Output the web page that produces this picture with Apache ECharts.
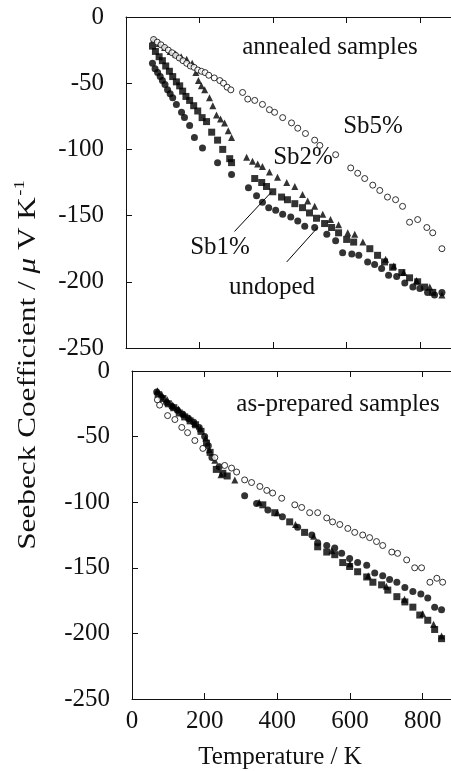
<!DOCTYPE html>
<html><head><meta charset="utf-8">
<script src="https://cdn.jsdelivr.net/npm/echarts@6/dist/echarts.min.js"></script>
<style>html,body{margin:0;padding:0;background:#fff}#c{width:451px;height:771px}</style>
</head><body><div id="c"></div>
<script>
// ---- tick labels ----
const xTicks = [0, 200, 400, 600, 800];
const yTicks = [0, -50, -100, -150, -200, -250];

// ---- annealed samples (top panel) ----
const annUndopedT = [72,79,86,93,99,106,113,120,127,137,151,159,173,186,208,249,287,333,355,371,388,407,426,448,467,486,513,546,570,589,614,633,657,676,695,714,736,758,780,799,820,839,859];
const annUndopedS = [-35,-39,-42,-45,-48,-51,-55,-58,-61,-66,-72,-76,-82,-91,-99,-110,-119,-129,-135,-140,-144,-146,-149,-151,-154,-158,-159,-164,-169,-178,-179,-180,-185,-187,-190,-195,-196,-201,-204,-205,-208,-210,-208];
const annSb1T = [72,80,90,99,108,118,127,137,146,154,163,173,184,195,207,219,233,249,263,282,287,350,369,382,399,423,439,459,480,499,518,540,559,578,600,619,663,684,703,725,750,771,793,812,834];
const annSb1S = [-22,-26,-30,-33,-37,-41,-45,-49,-52,-56,-60,-63,-67,-71,-76,-79,-87,-93,-100,-107,-110,-122,-125,-128,-132,-136,-138,-141,-144,-148,-152,-156,-159,-163,-168,-170,-175,-180,-185,-189,-193,-197,-200,-204,-208];
const annSb2T = [75,90,105,120,135,150,165,180,190,197,205,214,227,236,246,257,268,278,287,328,344,358,371,390,412,437,459,480,494,513,535,556,578,603,622,644,706,728,755,790,826,859];
const annSb2S = [-17,-20,-23,-26,-28,-30,-32,-35,-42,-48,-52,-55,-61,-67,-74,-77,-80,-86,-91,-106,-109,-111,-113,-117,-121,-125,-128,-134,-139,-143,-149,-153,-157,-163,-164,-170,-183,-188,-193,-199,-204,-210];
const annSb5T = [75,85,95,105,115,125,135,145,155,165,175,185,195,205,215,225,240,255,265,275,285,317,331,350,371,390,404,426,450,467,488,513,527,570,611,630,649,671,690,711,733,752,771,793,818,834,859];
const annSb5S = [-17,-19,-21,-23,-25,-27,-29,-31,-33,-35,-37,-38,-40,-41,-42,-44,-46,-48,-50,-53,-55,-57,-62,-63,-66,-70,-72,-76,-80,-84,-88,-93,-97,-104,-114,-118,-122,-127,-131,-136,-138,-143,-155,-153,-159,-163,-175];

// ---- as-prepared samples (bottom panel) ----
const prepUndopedT = [68,80,95,110,125,140,155,170,185,200,210,220,240,310,343,374,414,456,495,511,536,558,577,599,621,646,668,690,709,729,751,773,795,814,833,852];
const prepUndopedS = [-16,-20,-24,-27,-30,-33,-36,-39,-43,-50,-57,-66,-73,-95,-101,-106,-111,-119,-125,-131,-133,-135,-139,-143,-146,-148,-154,-156,-159,-161,-165,-168,-170,-173,-180,-182];
const prepSb1T = [72,85,100,115,130,145,160,175,190,205,215,232,250,262,360,393,434,475,511,536,558,580,599,621,646,663,687,704,729,751,773,792,814,833,852];
const prepSb1S = [-18,-21,-25,-28,-32,-35,-38,-41,-46,-55,-62,-75,-78,-80,-102,-108,-115,-123,-134,-138,-140,-146,-149,-153,-157,-161,-163,-167,-172,-176,-180,-186,-190,-197,-204];
const prepSb2T = [70,82,97,112,128,143,158,173,188,203,213,228,245,283,350,400,450,500,550,600,650,700,750,800,830,852];
const prepSb2S = [-15,-18,-22,-26,-29,-33,-36,-40,-44,-51,-60,-68,-79,-83,-100,-108,-117,-126,-137,-147,-156,-164,-174,-185,-193,-202];
const prepSb5T = [70,76,98,118,137,153,173,195,228,255,274,288,310,329,352,371,387,412,448,467,489,511,536,552,572,594,613,635,654,673,690,715,731,756,778,797,820,839,855];
const prepSb5S = [-22,-26,-34,-37,-43,-47,-53,-59,-66,-72,-74,-77,-83,-85,-88,-91,-93,-97,-102,-104,-108,-108,-112,-115,-117,-120,-123,-125,-127,-130,-133,-138,-139,-144,-150,-150,-161,-158,-161];

// ---- annotation leader lines (data coords) ----
const leaderSb1 = [[295, -162], [396, -132]];
const leaderUndoped = [[437, -185], [521, -159]];

const zip = (a, b) => a.map((v, i) => [v, b[i]]);
const FONT = 'Liberation Serif';
const ink = '#111';

function xAx(gi, pos, showLabel) {
  return {
    type: 'value', gridIndex: gi, position: pos, min: 0, max: 900, interval: 200,
    axisLine: {show: true, onZero: false, lineStyle: {color: ink, width: 1}},
    axisTick: {show: true, inside: true, length: 6, lineStyle: {color: ink}},
    axisLabel: {show: showLabel, fontFamily: FONT, fontSize: 25, color: ink, margin: 10,
      formatter: v => (xTicks.indexOf(v) >= 0 ? String(v) : '')},
    splitLine: {show: false}
  };
}
function yAx(gi, pos, showLabel) {
  return {
    type: 'value', gridIndex: gi, position: pos, min: -250, max: 0, interval: 50,
    axisLine: {show: true, onZero: false, lineStyle: {color: ink, width: 1}},
    axisTick: {show: true, inside: true, length: 6, lineStyle: {color: ink}},
    axisLabel: {show: showLabel, fontFamily: FONT, fontSize: 25, color: ink, margin: 22,
      formatter: v => (yTicks.indexOf(v) >= 0 ? String(v) : '')},
    splitLine: {show: false}
  };
}
function filled(name, sym, size, data, xi, yi) {
  return {name, type: 'scatter', xAxisIndex: xi, yAxisIndex: yi, symbol: sym, symbolSize: size,
    itemStyle: {color: '#000'}, data, silent: true, z: 3};
}
function open(name, data, xi, yi) {
  return {name, type: 'scatter', xAxisIndex: xi, yAxisIndex: yi, symbol: 'circle', symbolSize: 6,
    itemStyle: {color: '#fff', borderColor: '#000', borderWidth: 1}, data, silent: true, z: 4};
}

const chart = echarts.init(document.getElementById('c'), null, {renderer: 'canvas'});
chart.setOption({
  backgroundColor: '#fff',
  animation: false,
  grid: [
    {left: 126, top: 17, width: 331, height: 331, outerBoundsMode: 'none', containLabel: false},
    {left: 132, top: 371, width: 327, height: 328, outerBoundsMode: 'none', containLabel: false}
  ],
  xAxis: [xAx(0, 'bottom', false), xAx(0, 'top', false), xAx(1, 'bottom', true), xAx(1, 'top', false)],
  yAxis: [yAx(0, 'left', true), yAx(0, 'right', false), yAx(1, 'left', true), yAx(1, 'right', false)],
  series: [
    open('annealed Sb5%', zip(annSb5T, annSb5S), 0, 0),
    filled('annealed Sb2%', 'triangle', 7, zip(annSb2T, annSb2S), 0, 0),
    filled('annealed Sb1%', 'rect', 7, zip(annSb1T, annSb1S), 0, 0),
    Object.assign(filled('annealed undoped', 'circle', 7, zip(annUndopedT, annUndopedS), 0, 0), {
      markLine: {silent: true, symbol: ['none', 'none'], label: {show: false},
        lineStyle: {color: '#000', width: 1, type: 'solid'},
        data: [
          [{coord: leaderSb1[0]}, {coord: leaderSb1[1]}],
          [{coord: leaderUndoped[0]}, {coord: leaderUndoped[1]}]
        ]}
    }),
    open('as-prepared Sb5%', zip(prepSb5T, prepSb5S), 2, 2),
    filled('as-prepared Sb2%', 'triangle', 7, zip(prepSb2T, prepSb2S), 2, 2),
    filled('as-prepared Sb1%', 'rect', 7, zip(prepSb1T, prepSb1S), 2, 2),
    filled('as-prepared undoped', 'circle', 7, zip(prepUndopedT, prepUndopedS), 2, 2)
  ],
  graphic: [
    {type: 'text', x: 330, y: 47, style: {text: 'annealed samples', font: '25px "Liberation Serif"', fill: ink, textAlign: 'center', textVerticalAlign: 'middle'}},
    {type: 'text', x: 373, y: 126, style: {text: 'Sb5%', font: '25px "Liberation Serif"', fill: ink, textAlign: 'center', textVerticalAlign: 'middle'}},
    {type: 'text', x: 303, y: 157, style: {text: 'Sb2%', font: '25px "Liberation Serif"', fill: ink, textAlign: 'center', textVerticalAlign: 'middle'}},
    {type: 'text', x: 220, y: 247, style: {text: 'Sb1%', font: '25px "Liberation Serif"', fill: ink, textAlign: 'center', textVerticalAlign: 'middle'}},
    {type: 'text', x: 272, y: 287, style: {text: 'undoped', font: '25px "Liberation Serif"', fill: ink, textAlign: 'center', textVerticalAlign: 'middle'}},
    {type: 'text', x: 338, y: 404, style: {text: 'as-prepared samples', font: '25px "Liberation Serif"', fill: ink, textAlign: 'center', textVerticalAlign: 'middle'}},
    {type: 'text', x: 280, y: 757, style: {text: 'Temperature / K', font: '25px "Liberation Serif"', fill: ink, textAlign: 'center', textVerticalAlign: 'middle'}},
    {type: 'text', x: 28, y: 365, rotation: Math.PI / 2, scaleX: 1.25,
      style: {
        text: '{a|Seebeck Coefficient / }{i|μ}{a| V K}{s|-1}',
        textAlign: 'center', textVerticalAlign: 'middle', fill: ink,
        rich: {
          a: {fontFamily: FONT, fontSize: 25, color: ink, lineHeight: 30},
          i: {fontFamily: FONT, fontSize: 25, fontStyle: 'italic', color: ink, lineHeight: 30},
          s: {fontFamily: FONT, fontSize: 15, color: ink, lineHeight: 30, verticalAlign: 'top', padding: [0, 0, 12, 1]}
        }
      }}
  ]
});
</script>
</body></html>
